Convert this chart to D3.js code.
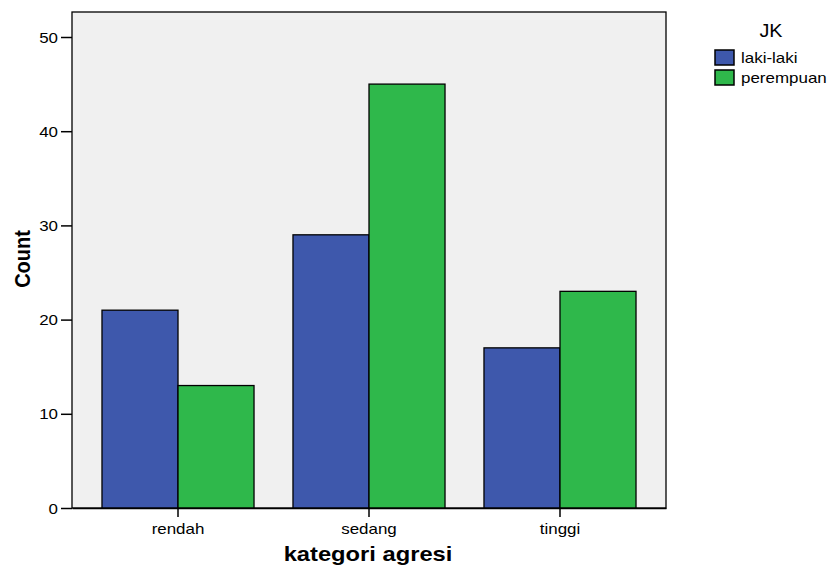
<!DOCTYPE html>
<html><head><meta charset="utf-8">
<script src="https://cdn.jsdelivr.net/npm/d3@7"></script>
<style>body{margin:0;background:#fff;} text{font-family:Arial,"Liberation Sans",sans-serif;}</style>
</head><body>
<svg id="c" width="833" height="570"></svg>
<script>
const categories = ["rendah", "sedang", "tinggi"];
const seriesNames = ["laki-laki", "perempuan"];
const lakiLaki = [21, 29, 17];
const perempuan = [13, 45, 23];
const yTicks = [0, 10, 20, 30, 40, 50];
const colors = ["#3e58ac", "#2fb84b"];

const SX = 1.13;
const svg = d3.select("#c");
const L = 72, R = 666, T = 12, B = 508;
const y = d3.scaleLinear().domain([0, 50]).range([B, 37]);
const x = d3.scaleBand().domain(categories).range([L, R]).paddingInner(0.204).paddingOuter(0.157);
const xs = d3.scaleBand().domain(seriesNames).range([0, x.bandwidth()]);

svg.append("rect").attr("x", L).attr("y", T).attr("width", R - L).attr("height", B - T)
  .attr("fill", "#f0f0f0").attr("stroke", "#000").attr("stroke-width", 1.3);

const data = [lakiLaki, perempuan];
categories.forEach((c, i) => {
  seriesNames.forEach((s, j) => {
    const v = data[j][i];
    svg.append("rect").attr("x", x(c) + xs(s)).attr("y", y(v))
      .attr("width", xs.bandwidth()).attr("height", y(0) - y(v))
      .attr("fill", colors[j]).attr("stroke", "#000").attr("stroke-width", 1.3);
  });
});

// stretched text helper
function stext(px, py, str, size, anchor, weight) {
  return svg.append("text")
    .attr("transform", `translate(${px},${py}) scale(${SX},1)`)
    .attr("text-anchor", anchor).attr("font-size", size)
    .attr("font-weight", weight || "normal").attr("fill", "#000").text(str);
}

// y axis
const ya = svg.append("g").attr("transform", `translate(${L},0)`)
  .call(d3.axisLeft(y).tickValues(yTicks).tickSize(11).tickFormat(() => ""));
ya.select(".domain").remove();
ya.selectAll("line").attr("stroke", "#000").attr("stroke-width", 1.5);
yTicks.forEach(t => stext(L - 14, y(t) + 5.5, String(t), 15, "end"));

// x axis
const xa = svg.append("g").attr("transform", `translate(0,${B})`)
  .call(d3.axisBottom(x).tickSize(9).tickSizeOuter(0).tickFormat(() => ""));
xa.select(".domain").attr("stroke", "#000").attr("stroke-width", 1.5);
xa.selectAll("line").attr("stroke", "#000").attr("stroke-width", 1.5);
categories.forEach(c => stext(x(c) + x.bandwidth() / 2, 534, c, 15, "middle"));

stext(368, 561, "kategori agresi", 21, "middle", "bold");
svg.append("text").attr("transform", `translate(30,259) rotate(-90) scale(1,${SX})`).attr("text-anchor", "middle")
  .attr("font-size", 20).attr("font-weight", "bold").text("Count");

// legend
stext(771, 37, "JK", 17.5, "middle");
seriesNames.forEach((s, j) => {
  const gy = 50 + j * 20;
  svg.append("rect").attr("x", 715).attr("y", gy).attr("width", 19).attr("height", 15)
    .attr("fill", colors[j]).attr("stroke", "#000").attr("stroke-width", 1.5);
  stext(741, gy + 13.3, s, 15, "start");
});
</script>
</body></html>
